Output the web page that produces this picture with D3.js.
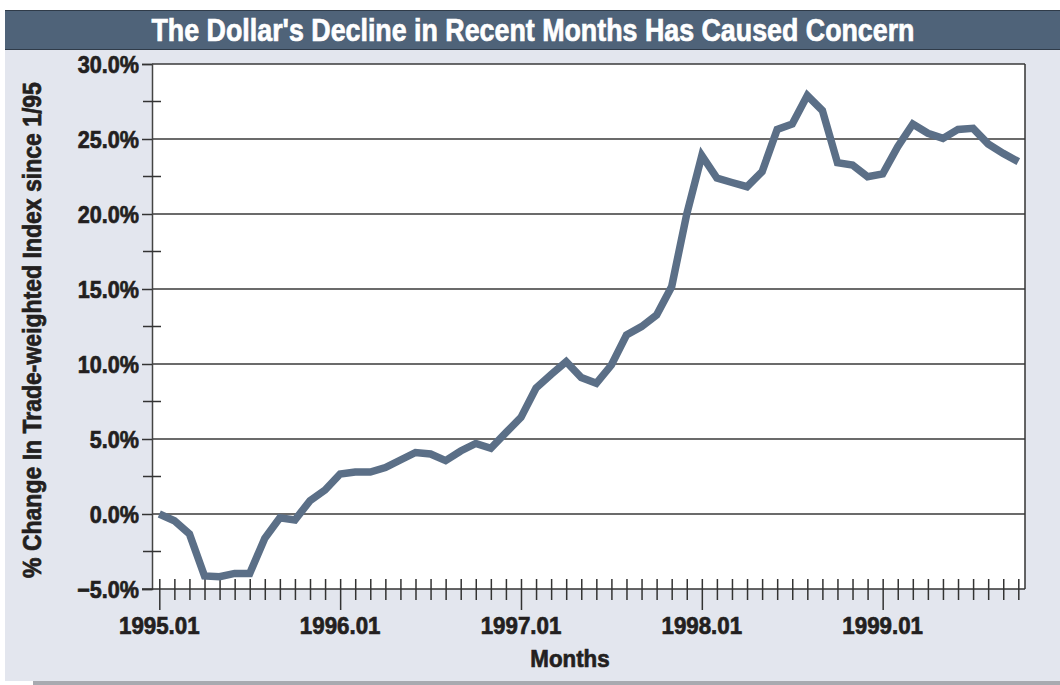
<!DOCTYPE html>
<html>
<head>
	<meta charset="utf-8">
	<script src="https://d3js.org/d3.v7.min.js"></script>
	<title>The Dollar's Decline</title>
	<style type="text/css">
		body {
			margin: 0;
			background: #fff;
		}
		text {
			font-family: "Liberation Sans", Arial, sans-serif;
			font-weight: bold;
		}
	</style>
</head>
<body>
	<div id="chartContainer"></div>
	<script type="text/javascript">
		// monthly values, 1995.01 .. 1999.10
		var months = [];
		for (var yr = 1995; yr <= 1999; yr++) {
			for (var m = 1; m <= 12; m++) {
				if (yr === 1999 && m > 10) break;
				months.push(yr + '.' + (m < 10 ? '0' + m : m));
			}
		}
		var values = [
			0.0, -0.45, -1.33, -4.13, -4.18, -3.96, -3.96, -1.62, -0.25, -0.4, 0.89, 1.6,
			2.67, 2.8, 2.8, 3.1, 3.6, 4.1, 4.0, 3.56, 4.2, 4.7, 4.38, 5.42,
			6.44, 8.4, 9.3, 10.15, 9.1, 8.71, 9.93, 11.93, 12.49, 13.27, 15.16, 20.0,
			23.9, 22.4, 22.1, 21.82, 22.82, 25.64, 26.0, 27.9, 26.9, 23.42, 23.27, 22.49,
			22.67, 24.49, 26.0, 25.38, 25.04, 25.64, 25.71, 24.67, 24.04, 23.49
		];
		var yTicks = [-5, 0, 5, 10, 15, 20, 25, 30];
		var yMinorTicks = [-2.5, 2.5, 7.5, 12.5, 17.5, 22.5, 27.5];
		var xLabels = ['1995.01', '1996.01', '1997.01', '1998.01', '1999.01'];

		var title = "The Dollar's Decline in Recent Months Has Caused Concern";
		var xTitle = 'Months';
		var yTitle = '% Change In Trade-weighted Index since 1/95';

		var W = 1060, H = 685;
		var NARROW = 0.9; // squeeze to look like a condensed face
		var svg = d3.select('#chartContainer').append('svg')
			.attr('width', W).attr('height', H);

		// put a condensed-looking label at (px, py)
		function label(g, px, py, str, anchor, size, rot, k) {
			return g.append('text')
				.attr('transform', 'translate(' + px + ',' + py + ')' + (rot ? ' rotate(' + rot + ')' : '') + ' scale(' + (k || NARROW) + ',1)')
				.attr('text-anchor', anchor)
				.style('font-size', size + 'px')
				.attr('fill', '#231f20')
				.attr('stroke', '#231f20')
				.attr('stroke-width', 0.7)
				.text(str);
		}

		// panel + shadow + title bar
		svg.append('rect').attr('x', 33).attr('y', 680).attr('width', W - 33).attr('height', 5).attr('fill', '#a8aab0');
		svg.append('rect').attr('x', 5).attr('y', 49).attr('width', W - 5).attr('height', 632).attr('fill', '#e3e6ee');
		svg.append('rect').attr('x', 5).attr('y', 10).attr('width', W - 5).attr('height', 40)
			.attr('fill', '#4f6379');
		svg.append('line').attr('x1', 5).attr('x2', W).attr('y1', 10.5).attr('y2', 10.5).attr('stroke', '#2f3b49');
		svg.append('line').attr('x1', 5).attr('x2', W).attr('y1', 49.5).attr('y2', 49.5).attr('stroke', '#2f3b49');
		svg.append('text').attr('x', 533).attr('y', 41)
			.attr('text-anchor', 'middle')
			.attr('textLength', 763)
			.attr('lengthAdjust', 'spacingAndGlyphs')
			.style('font-size', '31px')
			.attr('fill', '#fff')
			.attr('stroke', '#fff')
			.attr('stroke-width', 0.7)
			.text(title);

		var pLeft = 152, pRight = 1025, pTop = 64, pBottom = 589;
		var x = d3.scaleLinear().domain([0, months.length - 1]).range([159.3, 1018.3]);
		var y = d3.scaleLinear().domain([-5, 30]).range([pBottom, pTop]);

		// plot background
		svg.append('rect').attr('x', pLeft).attr('y', pTop).attr('width', pRight - pLeft).attr('height', pBottom - pTop)
			.attr('fill', '#fff');

		// grid lines
		svg.append('g').selectAll('line').data(yTicks.filter(function (d) { return d > -5; }))
			.enter().append('line')
			.attr('x1', pLeft).attr('x2', pRight)
			.attr('y1', function (d) { return y(d); }).attr('y2', function (d) { return y(d); })
			.attr('stroke', '#3a3a3a').attr('stroke-width', 1.5);

		// right border
		svg.append('line').attr('x1', pRight).attr('x2', pRight).attr('y1', pTop).attr('y2', pBottom)
			.attr('stroke', '#333').attr('stroke-width', 1.5);

		// y axis
		var yAxis = svg.append('g').attr('transform', 'translate(' + pLeft + ',0)')
			.call(d3.axisLeft(y).tickValues(yTicks).tickSize(10).tickFormat(''));
		yAxis.select('.domain').attr('stroke', '#444').attr('stroke-width', 1.5);
		yAxis.selectAll('.tick line').attr('stroke', '#333').attr('stroke-width', 1.5);
		var yLab = svg.append('g');
		yTicks.forEach(function (d) {
			label(yLab, pLeft - 13, y(d) + 9, d3.format('.1f')(d) + '%', 'end', 24);
		});

		svg.append('g').selectAll('line').data(yMinorTicks).enter().append('line')
			.attr('x1', pLeft - 9).attr('x2', pLeft + 9)
			.attr('y1', function (d) { return y(d); }).attr('y2', function (d) { return y(d); })
			.attr('stroke', '#333').attr('stroke-width', 1.5);

		// x axis
		var xAxis = svg.append('g').attr('transform', 'translate(0,' + pBottom + ')')
			.call(d3.axisBottom(x).tickValues(d3.range(months.length)).tickSize(11).tickFormat(''));
		xAxis.select('.domain').remove();
		svg.append('line').attr('x1', pLeft - 10).attr('x2', pRight).attr('y1', pBottom).attr('y2', pBottom)
			.attr('stroke', '#333').attr('stroke-width', 1.5);
		xAxis.selectAll('.tick line')
			.attr('y1', -10)
			.attr('y2', function (d) { return months[d].slice(5) === '01' ? 21 : 11; })
			.attr('stroke', '#333').attr('stroke-width', 1.5);

		var xLab = svg.append('g');
		xLabels.forEach(function (d) {
			label(xLab, x(months.indexOf(d)), 634, d, 'middle', 24, 0, 0.93);
		});

		label(svg, 570, 667, xTitle, 'middle', 24, 0, 0.93);
		label(svg, 41, 330, yTitle, 'middle', 25, -90, 0.92);

		// the series line
		var line = d3.line()
			.x(function (d, i) { return x(i); })
			.y(function (d) { return y(d); });
		svg.append('path').datum(values)
			.attr('d', line)
			.attr('fill', 'none')
			.attr('stroke', '#5b6f87')
			.attr('stroke-width', 7.5)
			.attr('stroke-linejoin', 'miter');
	</script>
</body>
</html>
